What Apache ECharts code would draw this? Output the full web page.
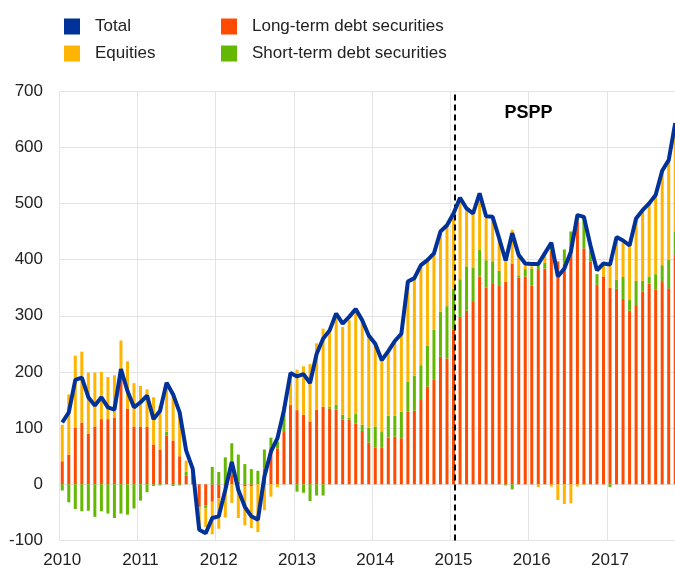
<!DOCTYPE html>
<html>
<head>
<meta charset="utf-8">
<title>Holdings by instrument</title>
<script src="https://cdn.jsdelivr.net/npm/echarts@6/dist/echarts.min.js"></script>
<style>
	html, body { margin: 0; padding: 0; background: #fff; }
	#chart { width: 675px; height: 569px; }
</style>
</head>
<body>
<div id="chart"></div>
<script type="text/javascript">
	// year labels on the x axis (one label every 12 months)
	var years = [2010, 2011, 2012, 2013, 2014, 2015, 2016, 2017];

	// monthly values, Jan 2010 - Nov 2017
	var longTerm = [
		41, 53, 101, 110, 90, 103, 116, 116, 119, 190, 135, 103,
		103, 102, 71, 62, 87, 78, 50, 16, 15, -40, -38, -31,
		-25, -5, 18, 5, -3, -4, 0, 28, 67, 64, 93, 141,
		132, 124, 112, 133, 138, 135, 133, 115, 115, 108, 95, 74,
		65, 65, 83, 85, 82, 129, 131, 150, 174, 187, 227, 224,
		275, 298, 309, 326, 370, 350, 358, 353, 361, 393, 368, 370,
		354, 383, 384, 416, 396, 393, 414, 467, 420, 396, 355, 370,
		350, 348, 330, 309, 319, 343, 357, 347, 360, 349, 409
	];
	var shortTerm = [
		-11, -32, -44, -48, -47, -58, -48, -52, -60, -52, -54, -43,
		-29, -14, -3, -2, 7, -3, -2, 6, 0, 0, -5, 31,
		22, 48, 55, 48, 36, 27, 24, 34, 16, 12, 40, 0,
		-13, -15, -30, -20, -20, 3, 9, 9, 4, 17, 11, 27,
		38, 28, 39, 37, 47, 54, 62, 62, 73, 88, 80, 93,
		73, 67, 79, 60, 47, 49, 39, 27, -2, -9, 4, 13,
		30, 9, 10, 13, 1, 25, 36, 15, 55, 20, 19, 0,
		-5, 16, 39, 19, 43, 19, 13, 27, 30, 51, 41
	];
	var equities = [
		65, 107, 128, 126, 109, 96, 84, 75, 75, 66, 84, 77,
		72, 67, 84, 78, 87, 82, 78, 20, 10, -35, -33, -58,
		-54, -54, -33, -60, -70, -74, -85, -46, -22, -5, 5, 56,
		72, 86, 102, 118, 139, 136, 153, 156, 173, 185, 186, 164,
		148, 128, 117, 131, 139, 178, 174, 178, 152, 136, 143, 144,
		134, 144, 106, 96, 98, 77, 79, 58, 35, 60, 36, 10,
		4, -5, 12, -4, -28, -35, -34, -4, -1, 5, 0, 20,
		40, 76, 62, 97, 111, 126, 130, 141, 166, 177, 189
	];
	var total = [
		110, 128, 186, 190, 155, 140, 155, 137, 133, 205, 166, 137,
		146, 158, 116, 131, 181, 160, 128, 60, 28, -81, -87, -60,
		-57, -10, 40, -10, -40, -57, -63, 14, 58, 82, 132, 198,
		192, 196, 180, 232, 259, 274, 304, 286, 298, 312, 292, 265,
		250, 221, 237, 255, 268, 361, 367, 390, 399, 411, 450, 461,
		482, 510, 491, 482, 518, 477, 476, 438, 398, 447, 408, 393,
		392, 392, 411, 430, 370, 384, 414, 479, 476, 425, 381, 393,
		391, 440, 434, 425, 473, 488, 500, 515, 558, 577, 643
	];

	// PSPP announcement (22 Jan 2015), in months since Jan 2010
	var psppMonth = 60.7;

	// one category per month, Jan 2010 - Dec 2017
	var months = [];
	years.forEach(function(y) {
		for(var m = 1; m <= 12; m++) {
			months.push(y + '-' + (m < 10 ? '0' + m : m));
		}
	});

	var txt = '#222';
	var gridColor = '#e4e4e4';
	var font = 'Liberation Sans, Arial, sans-serif';

	var myChart = echarts.init(document.getElementById('chart'));

	myChart.setOption({
		animation: false,
		textStyle: { fontFamily: font },
		legend: [{
			left: 64,
			top: 18,
			padding: 0,
			orient: 'vertical',
			icon: 'rect',
			itemWidth: 16,
			itemHeight: 16,
			itemGap: 10,
			data: ['Total', 'Equities'],
			textStyle: { fontSize: 17, color: txt, fontFamily: font, padding: [0, 0, 0, 10] }
		}, {
			left: 221,
			top: 18,
			padding: 0,
			orient: 'vertical',
			icon: 'rect',
			itemWidth: 16,
			itemHeight: 16,
			itemGap: 10,
			data: ['Long-term debt securities', 'Short-term debt securities'],
			textStyle: { fontSize: 17, color: txt, fontFamily: font, padding: [0, 0, 0, 10] }
		}],
		// the plot runs on past the right edge (Dec 2017 is cut off)
		grid: {
			left: 59,
			right: -10,
			top: 91,
			bottom: 28.5,
			outerBoundsMode: 'none',
			containLabel: false
		},
		xAxis: [{
			type: 'category',
			data: months,
			boundaryGap: true,
			axisLine: { show: false },
			axisTick: { show: false },
			splitLine: { show: true, interval: 11, lineStyle: { color: gridColor, width: 1 } },
			axisLabel: {
				interval: 11,
				fontSize: 17,
				color: txt,
				fontFamily: font,
				margin: 11,
				formatter: function(v) {
					return v.slice(0, 4);
				}
			}
		}, {
			// same span in months, only used to place the PSPP marker
			type: 'value',
			min: 0,
			max: 96,
			show: false
		}],
		yAxis: {
			type: 'value',
			min: -100,
			max: 700,
			interval: 100,
			axisLine: { show: false },
			axisTick: { show: false },
			splitLine: { show: true, lineStyle: { color: gridColor, width: 1 } },
			axisLabel: { fontSize: 17, color: txt, fontFamily: font, margin: 16 }
		},
		series: [{
			name: 'Long-term debt securities',
			type: 'bar',
			stack: 'holdings',
			barWidth: 3,
			itemStyle: { color: '#ff4b00' },
			data: longTerm
		}, {
			name: 'Short-term debt securities',
			type: 'bar',
			stack: 'holdings',
			barWidth: 3,
			itemStyle: { color: '#65b800' },
			data: shortTerm
		}, {
			name: 'Equities',
			type: 'bar',
			stack: 'holdings',
			barWidth: 3,
			itemStyle: { color: '#ffb400' },
			data: equities
		}, {
			name: 'Total',
			type: 'line',
			z: 5,
			showSymbol: false,
			symbol: 'none',
			itemStyle: { color: '#003299' },
			lineStyle: { color: '#003299', width: 4 },
			data: total
		}, {
			name: 'pspp',
			type: 'scatter',
			xAxisIndex: 1,
			silent: true,
			data: [],
			markLine: {
				silent: true,
				symbol: ['none', 'none'],
				label: { show: false },
				lineStyle: { color: '#000', type: [6, 4], width: 2 },
				data: [{ xAxis: psppMonth }]
			},
			markPoint: {
				silent: true,
				symbolSize: 0,
				label: {
					show: true,
					formatter: 'PSPP',
					fontSize: 18,
					fontWeight: 'bold',
					color: '#000',
					fontFamily: font
				},
				data: [{ coord: [72, 660] }]
			}
		}]
	});
</script>
</body>
</html>
